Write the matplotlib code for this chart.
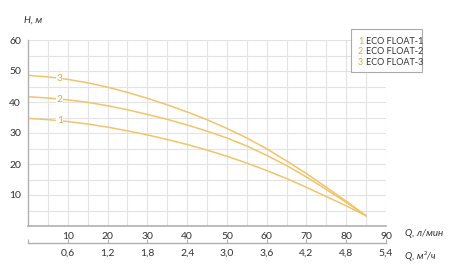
import matplotlib
matplotlib.use("Agg")
import matplotlib.pyplot as plt
import numpy as np
from matplotlib.patches import Rectangle

plt.rcParams['font.family'] = ['Lato', 'DejaVu Sans']

Q = [0, 5, 10, 15, 20, 25, 30, 35, 40, 45, 50, 55, 60, 65, 70, 75, 80, 85]
H1 = [34.7, 34.3, 33.7, 32.9, 31.9, 30.7, 29.4, 27.9, 26.3, 24.5, 22.5, 20.3, 17.9, 15.3, 12.5, 9.5, 6.5, 3.3]
H2 = [41.7, 41.3, 40.7, 39.9, 38.8, 37.5, 36.0, 34.4, 32.6, 30.6, 28.4, 25.8, 22.8, 19.5, 15.8, 11.8, 7.6, 3.3]
H3 = [48.6, 48.1, 47.3, 46.2, 44.8, 43.1, 41.2, 39.1, 36.8, 34.3, 31.5, 28.4, 24.9, 21.0, 16.9, 12.5, 8.0, 3.3]
series = [("1", "ECO FLOAT-1", H1), ("2", "ECO FLOAT-2", H2), ("3", "ECO FLOAT-3", H3)]
x_ticks = [10, 20, 30, 40, 50, 60, 70, 80, 90]
m3_labels = ["0,6", "1,2", "1,8", "2,4", "3,0", "3,6", "4,2", "4,8", "5,4"]
y_ticks = [10, 20, 30, 40, 50, 60]
label_q = 8

line_c = "#f2c46a"
num_c = "#e9a83a"
txt_c = "#333333"
grid_c = "#e3e3e3"

fig = plt.figure(figsize=(4.5, 2.74), dpi=100)
ax = fig.add_axes([28/450, 1-226/274, (386-28)/450, (226-40)/274])
ax.set_xlim(0, 90)
ax.set_ylim(0, 60)
ax.set_xticks(x_ticks)
ax.set_xticks(np.arange(5, 91, 10), minor=True)
ax.set_yticks(y_ticks)
ax.set_yticks(np.arange(5, 61, 10), minor=True)
ax.grid(True, which='both', color=grid_c, lw=0.8)
ax.set_axisbelow(True)
ax.set_xticklabels([str(v) for v in x_ticks])
ax.set_yticklabels([str(v) for v in y_ticks])
ax.tick_params(axis='both', which='both', length=0, labelsize=7.5, colors=txt_c)
ax.tick_params(axis='x', pad=4)
ax.tick_params(axis='y', pad=5)
for s in ['top', 'right']:
    ax.spines[s].set_visible(False)
ax.spines['left'].set_color('#b0b0b0')
ax.spines['bottom'].set_color('#b0b0b0')
ax.spines['left'].set_linewidth(1.0)
ax.spines['bottom'].set_linewidth(1.2)

for num, name, H in series:
    ax.plot(Q, H, color=line_c, lw=1.1, solid_capstyle='round', solid_joinstyle='round')
    hy = np.interp(label_q, Q, H)
    ax.text(label_q, hy, num, color=num_c, fontsize=7.5, ha='center', va='center',
            bbox=dict(boxstyle='square,pad=0.05', fc='white', ec='none'))

sec = ax.secondary_xaxis(-17/186, functions=(lambda q: q * 0.06, lambda m: m / 0.06))
sec.set_xticks([0] + [v * 0.06 for v in x_ticks])
sec.set_xticklabels([""] + m3_labels)
sec.tick_params(direction='in', length=3, width=0.8, color='#b0b0b0', labelsize=7.5,
                labelcolor=txt_c, pad=4)
sec.spines['bottom'].set_color('#b0b0b0')
sec.spines['bottom'].set_linewidth(1.0)

fig.text(405/450, 1-234/274, "Q, л/мин", fontsize=7, style='italic', color=txt_c, va='center')
fig.text(405/450, 1-256/274, "Q, м³/ч", fontsize=7, style='italic', color=txt_c, va='center')
fig.text(24/450, 1-20/274, "H, м", fontsize=7, style='italic', color=txt_c, va='center')

fig.patches.append(Rectangle((351/450, 1-72/274), (422-351)/450, (72-29)/274,
                             transform=fig.transFigure, fc='white', ec='#aaaaaa', lw=0.8))
for i, (num, name, H) in enumerate(series):
    yy = 1 - (41 + i * 10.5) / 274
    fig.text(358/450, yy, num, fontsize=6.5, color=num_c, va='center')
    fig.text(366/450, yy, name, fontsize=6.5, color=txt_c, va='center')

fig.savefig("out.png", dpi=100)
